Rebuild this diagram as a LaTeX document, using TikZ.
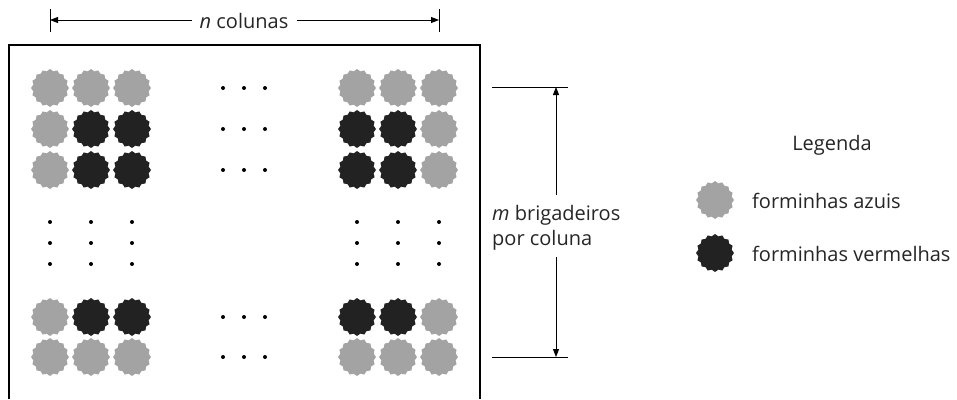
\documentclass[tikz,border=0pt]{standalone}
\usepackage{fontspec}
\setmainfont{Open Sans}
\usetikzlibrary{shapes.geometric,arrows.meta}
\definecolor{cakegray}{HTML}{A3A3A3}
\definecolor{cakedark}{HTML}{222222}
\begin{document}
\begin{tikzpicture}[x=1pt,y=-1pt,
  cake/.style={star,star points=16,star point ratio=1.12,minimum size=38pt,inner sep=0pt,draw=none},
  cg/.style={cake,fill=cakegray},
  cd/.style={cake,fill=cakedark},
  dotn/.style={circle,fill=black,minimum size=4pt,inner sep=0pt},
  lbl/.style={font=\fontsize{20}{25}\selectfont,inner sep=0pt,text=black!85},
  arr/.style={line width=0.9pt,-{Triangle[length=8pt,width=6pt]}},
  thin/.style={line width=0.9pt}]
\useasboundingbox[fill=white] (0,0) rectangle (957,399);
% frame
\draw[line width=1.8pt] (9,399) -- (9,45) -- (480,45) -- (480,399);
% cakes: left group
\foreach \r/\y/\a/\b/\c in {1/88/cg/cg/cg,2/129/cg/cd/cd,3/170/cg/cd/cd,4/317/cg/cd/cd,5/357/cg/cg/cg}{
  \node[\a] (L\r1) at (50,\y) {};
  \node[\b] (L\r2) at (91,\y) {};
  \node[\c] (L\r3) at (132,\y) {};
}
% cakes: right group
\foreach \r/\y/\a/\b/\c in {1/88/cg/cg/cg,2/129/cd/cd/cg,3/170/cd/cd/cg,4/317/cd/cd/cg,5/357/cg/cg/cg}{
  \node[\a] (R\r1) at (357,\y) {};
  \node[\b] (R\r2) at (398,\y) {};
  \node[\c] (R\r3) at (439,\y) {};
}
% horizontal ellipsis dots
\foreach \r/\y in {1/88,2/129,3/170,4/317,5/357}{
  \foreach \i/\x in {1/223,2/244,3/265}{
    \node[dotn] (h\r\i) at (\x,\y) {};
  }
}
% vertical ellipsis dots
\foreach \c/\x in {1/50,2/91,3/132,4/357,5/398,6/439}{
  \foreach \i/\y in {1/222,2/243,3/264}{
    \node[dotn] (v\c\i) at (\x,\y) {};
  }
}
% top dimension
\coordinate (tl1) at (50,9); \coordinate (tl2) at (50,32);
\coordinate (tr1) at (439,9); \coordinate (tr2) at (439,32);
\coordinate (tl) at (50,20); \coordinate (tr) at (439,20);
\draw[thin] (tl1) -- (tl2);
\draw[thin] (tr1) -- (tr2);
\node[lbl,inner xsep=8pt] (ncol) at (244,21) {\textit{n} colunas};
\draw[arr] (ncol.west |- tl) -- (tl);
\draw[arr] (ncol.east |- tr) -- (tr);
% right dimension
\coordinate (a1) at (492,87); \coordinate (a2) at (568,87);
\coordinate (b1) at (492,357); \coordinate (b2) at (568,357);
\draw[thin] (a1) -- (a2);
\draw[thin] (b1) -- (b2);
\coordinate (mt) at (556,87); \coordinate (mb) at (556,357);
\coordinate (g1) at (556,195); \coordinate (g2) at (556,257);
\draw[arr] (g1) -- (mt);
\draw[arr] (g2) -- (mb);
\node[lbl,anchor=west,align=left] (mlab) at (492,228) {\textit{m} brigadeiros\\por coluna};
% legend
\node[lbl] (leg) at (832,145) {Legenda};
\node[cg] (legg) at (715,200) {};
\node[cd] (legd) at (715,253) {};
\node[lbl,anchor=west] (legt1) at (752,201) {forminhas azuis};
\node[lbl,anchor=west] (legt2) at (752,254) {forminhas vermelhas};
\end{tikzpicture}
\end{document}
